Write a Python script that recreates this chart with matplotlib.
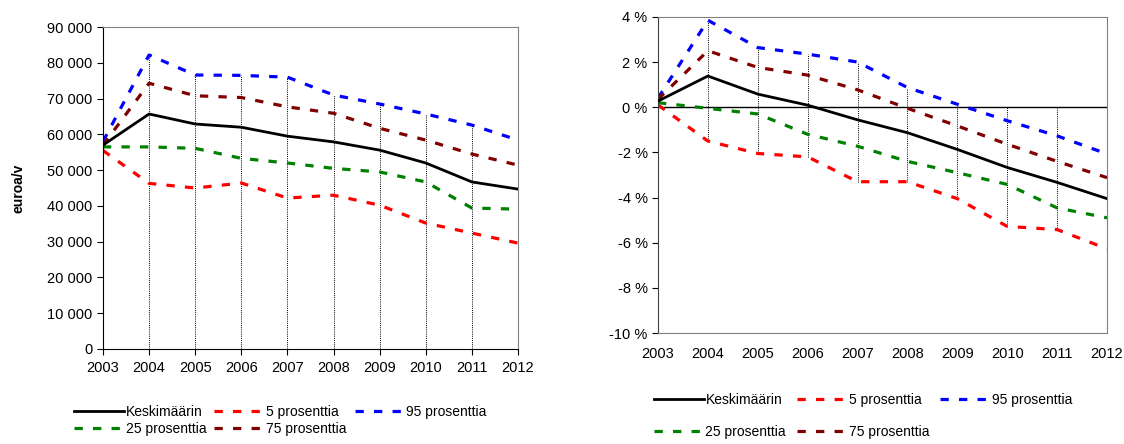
import matplotlib.pyplot as plt
import matplotlib.ticker as ticker
import numpy as np

plt.rcParams['font.family'] = ['Liberation Sans', 'DejaVu Sans']
plt.rcParams['font.size'] = 10

years = [2003, 2004, 2005, 2006, 2007, 2008, 2009, 2010, 2011, 2012]
series_labels = ['Keskimäärin', '5 prosenttia', '95 prosenttia', '25 prosenttia', '75 prosenttia']
series_colors = ['black', '#ff0000', '#0000ff', '#008000', '#800000']

# Left: euroa/v
eur_mean = [57000, 65700, 62900, 62000, 59500, 57900, 55600, 52000, 46700, 44700]
eur_p5 = [55500, 46300, 45000, 46400, 42200, 43000, 40200, 35200, 32400, 29600]
eur_p95 = [58000, 82200, 76600, 76500, 76000, 71000, 68500, 65700, 62600, 58400]
eur_p25 = [56500, 56500, 56100, 53300, 52000, 50500, 49500, 46700, 39400, 39100]
eur_p75 = [57000, 74300, 70800, 70300, 67700, 65900, 61700, 58400, 54500, 51400]

# Right: change, %
pct_mean = [0.27, 1.38, 0.58, 0.09, -0.56, -1.13, -1.87, -2.67, -3.33, -4.05]
pct_p5 = [0.1, -1.5, -2.05, -2.2, -3.3, -3.3, -4.05, -5.28, -5.42, -6.27]
pct_p95 = [0.4, 3.85, 2.64, 2.35, 2.0, 0.87, 0.13, -0.6, -1.27, -2.07]
pct_p25 = [0.2, -0.05, -0.3, -1.2, -1.73, -2.4, -2.9, -3.42, -4.46, -4.9]
pct_p75 = [0.35, 2.5, 1.76, 1.42, 0.77, -0.05, -0.83, -1.64, -2.4, -3.12]

dash = (0, (2.6, 3.2))


def draw(ax, series, zero_line):
    x = np.array(years)
    arr = np.array(series)
    hi = np.maximum(arr.max(axis=0), 0)
    lo = np.minimum(arr.min(axis=0), 0)
    ax.vlines(x, lo, hi, colors='black', linestyles=(0, (1, 1.2)), linewidth=0.7, zorder=1)
    handles = []
    for vals, lab, col in zip(series, series_labels, series_colors):
        if lab == 'Keskimäärin':
            h, = ax.plot(x, vals, color=col, linewidth=2.0, label=lab, zorder=3)
        else:
            h, = ax.plot(x, vals, color=col, linewidth=2.3, linestyle=dash,
                         label=lab, zorder=2)
        handles.append(h)
    if zero_line:
        ax.axhline(0, color='black', linewidth=1.0, zorder=1)
    ax.set_xlim(2003, 2012)
    ax.set_xticks(years)
    for s in ['top', 'right']:
        ax.spines[s].set_color('#808080')
    ax.tick_params(axis='both', labelsize=10.5, color='black', length=4, width=0.8)
    return handles


fig = plt.figure(figsize=(11.24, 4.44), dpi=100)
ax1 = fig.add_axes([0.0916, 0.214, 0.3693, 0.725])
ax2 = fig.add_axes([0.5854, 0.25, 0.3995, 0.712])

h1 = draw(ax1, [eur_mean, eur_p5, eur_p95, eur_p25, eur_p75], False)
ax1.set_ylim(0, 90000)
ax1.set_yticks(range(0, 90001, 10000))
ax1.yaxis.set_major_formatter(ticker.FuncFormatter(lambda v, p: f'{int(v):,}'.replace(',', ' ')))
ax1.tick_params(axis='x', pad=5)
ax1.set_ylabel('euroa/v', fontweight='bold', fontsize=10, labelpad=16)

h2 = draw(ax2, [pct_mean, pct_p5, pct_p95, pct_p25, pct_p75], True)
ax2.set_ylim(-10, 4)
ax2.set_yticks(range(-10, 5, 2))
ax2.yaxis.set_major_formatter(ticker.FuncFormatter(lambda v, p: f'{int(v)} %'.replace('−', '-')))
ax2.spines['bottom'].set_color('#808080')
ax2.tick_params(axis='x', length=0, pad=10)
ax2.spines['left'].set_color('#404040')

order = [0, 3, 1, 4, 2]
fig.legend([h1[i] for i in order], [series_labels[i] for i in order],
           loc='upper left', bbox_to_anchor=(0.061, 0.1), ncol=3, frameon=False,
           handlelength=3.6, handletextpad=0.1, columnspacing=0.6, labelspacing=0.2,
           fontsize=10, borderaxespad=0)
fig.legend([h2[i] for i in order], [series_labels[i] for i in order],
           loc='upper left', bbox_to_anchor=(0.577, 0.128), ncol=3, frameon=False,
           handlelength=3.6, handletextpad=0.1, columnspacing=0.8, labelspacing=1.3,
           fontsize=10, borderaxespad=0)

fig.savefig('out.png', dpi=100, facecolor='white')
